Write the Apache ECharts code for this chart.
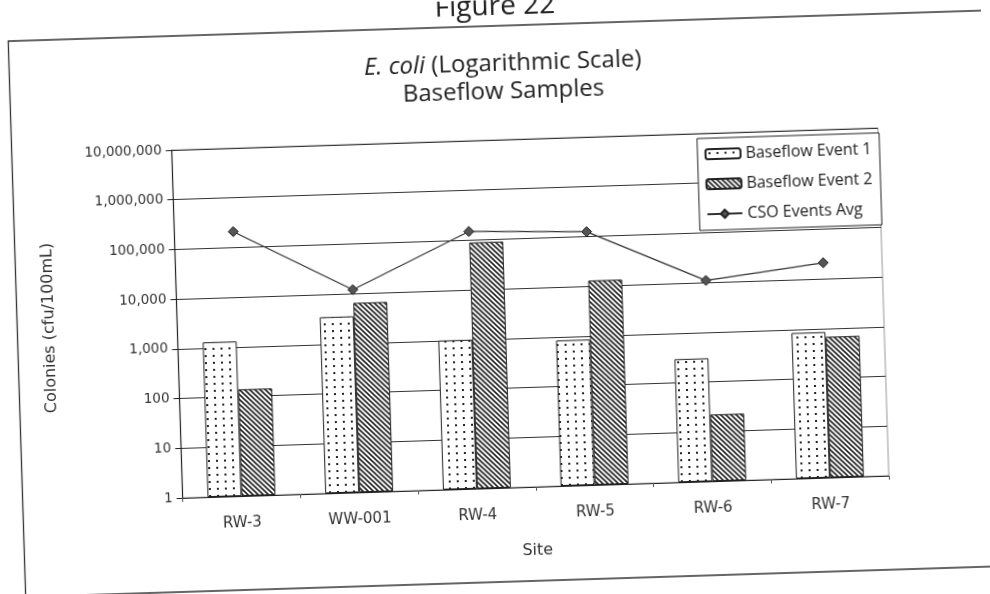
<!DOCTYPE html>
<html>
<head>
<meta charset="utf-8">
<script src="https://cdn.jsdelivr.net/npm/echarts@6/dist/echarts.min.js"></script>
<style>
  html, body { margin: 0; padding: 0; background: #fff; overflow: hidden; }
  #chart { width: 990px; height: 594px; transform: rotate(-1.8deg); transform-origin: 50% 50%; }
</style>
</head>
<body>
<div id="chart"></div>
<script>
const categories = ['RW-3', 'WW-001', 'RW-4', 'RW-5', 'RW-6', 'RW-7'];
const event1 = [1300, 3500, 1000, 850, 300, 850];
const event2 = [140, 6500, 90000, 13000, 22, 680];
const csoAvg = [210000, 12000, 150000, 125000, 11000, 21000];
const yTicks = [1, 10, 100, 1000, 10000, 100000, 1000000, 10000000];
const seriesNames = ['Baseflow Event 1', 'Baseflow Event 2', 'CSO Events Avg'];

function dotPattern() {
  const c = document.createElement('canvas');
  c.width = 8; c.height = 7;
  const g = c.getContext('2d');
  g.fillStyle = '#fff'; g.fillRect(0, 0, 8, 7);
  g.fillStyle = '#222'; g.fillRect(3, 3, 2, 2);
  return c;
}
function hatchPattern() {
  const c = document.createElement('canvas');
  const s = 5;
  c.width = s; c.height = s;
  const g = c.getContext('2d');
  g.fillStyle = '#fff'; g.fillRect(0, 0, s, s);
  g.strokeStyle = '#222'; g.lineWidth = 1.6;
  g.beginPath();
  g.moveTo(-1, -1); g.lineTo(s + 1, s + 1);
  g.moveTo(-1, s - 1); g.lineTo(1, s + 1);
  g.moveTo(s - 1, -1); g.lineTo(s + 1, 1);
  g.stroke();
  return c;
}

const chart = echarts.init(document.getElementById('chart'), null, { renderer: 'canvas' });
const font = 'Open Sans';
const tickFont = 'DejaVu Sans';

chart.setOption({
  backgroundColor: '#fff',
  animation: false,
  title: [
    {
      text: '{i|E. coli} (Logarithmic Scale)',
      left: 505, top: 47, textAlign: 'center',
      textStyle: {
        fontFamily: font, fontSize: 24, fontWeight: 'normal', color: '#222',
        rich: { i: { fontFamily: font, fontSize: 24, fontStyle: 'italic', color: '#222' } }
      }
    },
    {
      text: 'Baseflow Samples',
      left: 505, top: 75, textAlign: 'center',
      textStyle: { fontFamily: font, fontSize: 24, fontWeight: 'normal', color: '#222' }
    }
  ],
  graphic: [
    {
      type: 'rect', z: -10,
      shape: { x: 16.5, y: 26, width: 980, height: 556 },
      style: { fill: 'none', stroke: '#333', lineWidth: 1.3 }
    },
    {
      type: 'text', x: 504, y: 21,
      style: { text: 'Figure 22', font: '28px "Open Sans"', fill: '#222', textAlign: 'center', textVerticalAlign: 'bottom' }
    }
  ],
  legend: {
    orient: 'vertical', right: 106, top: 145,
    padding: [8, 8, 8, 7], itemGap: 14, itemWidth: 35, itemHeight: 10,
    backgroundColor: '#fff', borderColor: '#222', borderWidth: 1,
    textStyle: { fontFamily: font, fontSize: 16, color: '#222' },
    data: seriesNames
  },
  grid: {
    left: 176.5, right: 107, top: 140, bottom: 106,
    show: true, borderColor: '#999', borderWidth: 1
  },
  xAxis: {
    type: 'category',
    data: categories,
    name: 'Site', nameLocation: 'middle', nameGap: 56,
    nameTextStyle: { fontFamily: tickFont, fontSize: 16, color: '#333' },
    axisLine: { lineStyle: { color: '#222', width: 1.2 } },
    axisTick: { show: true, length: 4, lineStyle: { color: '#555' } },
    axisLabel: { margin: 20, fontFamily: tickFont, fontSize: 15, color: '#333' }
  },
  yAxis: {
    type: 'log', logBase: 10,
    min: yTicks[0], max: yTicks[yTicks.length - 1], splitNumber: yTicks.length - 1,
    name: 'Colonies (cfu/100mL)', nameLocation: 'middle', nameGap: 120,
    nameTextStyle: { fontFamily: tickFont, fontSize: 16, color: '#333' },
    axisLine: { show: true, lineStyle: { color: '#222', width: 1.2 } },
    axisTick: { show: true, length: 6, lineStyle: { color: '#222' } },
    axisLabel: {
      margin: 10, fontFamily: tickFont, fontSize: 13.5, color: '#333',
      formatter: v => Number(v).toLocaleString('en-US')
    },
    splitLine: { show: true, lineStyle: { color: '#333', width: 1.2 } },
    minorTick: { show: false }
  },
  series: [
    {
      name: seriesNames[0], type: 'bar', data: event1,
      barWidth: 34, barGap: '0%',
      itemStyle: { color: { image: dotPattern(), repeat: 'repeat' }, borderColor: '#222', borderWidth: 1 }
    },
    {
      name: seriesNames[1], type: 'bar', data: event2,
      barWidth: 34, barGap: '0%',
      itemStyle: { color: { image: hatchPattern(), repeat: 'repeat' }, borderColor: '#222', borderWidth: 1 }
    },
    {
      name: seriesNames[2], type: 'line', data: csoAvg, z: 5,
      symbol: 'diamond', symbolSize: 10,
      lineStyle: { color: '#333', width: 1.2 },
      itemStyle: { color: '#555', borderColor: '#222', borderWidth: 1 }
    }
  ]
});
</script>
</body>
</html>
